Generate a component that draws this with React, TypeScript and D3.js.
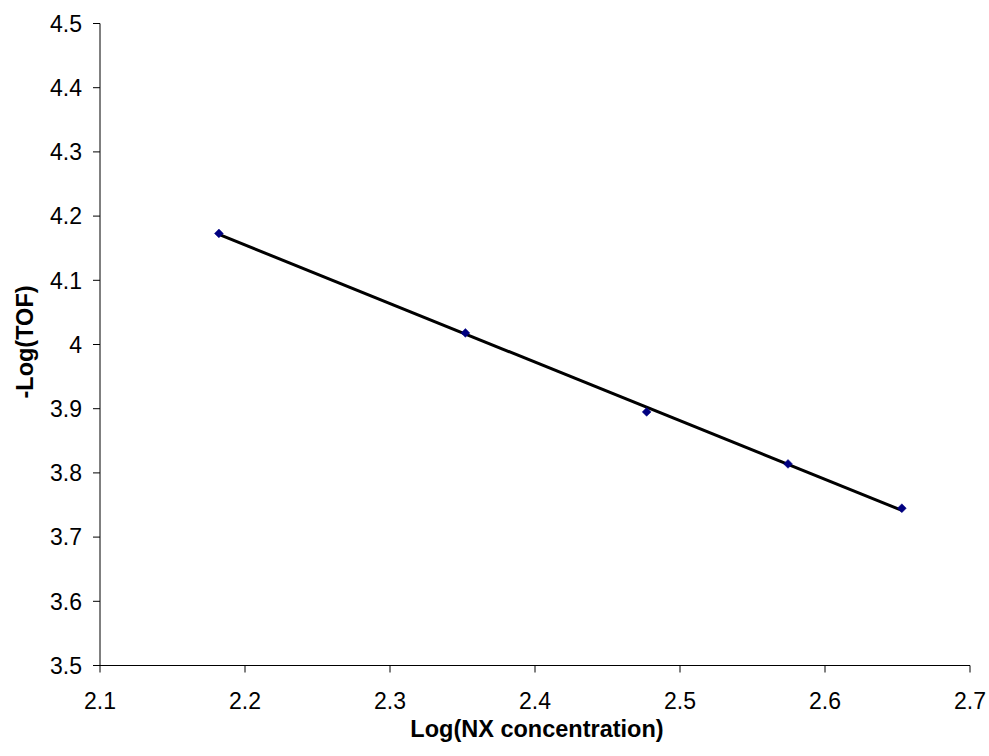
import React from "react";
import * as d3 from "d3";

const xValues = [2.182, 2.352, 2.477, 2.5745, 2.653];
const yValues = [4.173, 4.018, 3.895, 3.814, 3.745];
const xTicks = [2.1, 2.2, 2.3, 2.4, 2.5, 2.6, 2.7];
const yTicks = [3.5, 3.6, 3.7, 3.8, 3.9, 4, 4.1, 4.2, 4.3, 4.4, 4.5];
const xTitle = "Log(NX concentration)";
const yTitle = "-Log(TOF)";

const W = 989;
const H = 756;
const FONT = "'Liberation Sans', Arial, sans-serif";

export default function App() {
  const x = d3.scaleLinear().domain([2.1, 2.7]).range([100, 970]);
  const y = d3.scaleLinear().domain([3.5, 4.5]).range([665.5, 23.5]);

  // linear regression trendline
  const n = xValues.length;
  const mx = d3.mean(xValues)!;
  const my = d3.mean(yValues)!;
  let sxy = 0, sxx = 0;
  for (let i = 0; i < n; i++) {
    sxy += (xValues[i] - mx) * (yValues[i] - my);
    sxx += (xValues[i] - mx) ** 2;
  }
  const slope = sxy / sxx;
  const intercept = my - slope * mx;
  const x0 = d3.min(xValues)!;
  const x1 = d3.max(xValues)!;
  const line = d3.line<number>()
    .x((d) => x(d))
    .y((d) => y(intercept + slope * d));

  const fmt = (v: number) => String(+v.toFixed(1));

  return (
    <svg
      width={W}
      height={H}
      style={{ position: "absolute", left: 0, top: 0, background: "#fff" }}
      fontFamily={FONT}
    >
      <rect x={0} y={0} width={W} height={H} fill="#fff" />
      {/* axes */}
      <line x1={x(2.1)} x2={x(2.7)} y1={y(3.5)} y2={y(3.5)} stroke="#000" strokeWidth={1} />
      <line x1={x(2.1)} x2={x(2.1)} y1={y(3.5)} y2={y(4.5)} stroke="#000" strokeWidth={1} />
      {xTicks.map((t) => (
        <g key={"xt" + t}>
          <line x1={x(t)} x2={x(t)} y1={y(3.5)} y2={y(3.5) + 7} stroke="#000" strokeWidth={1} />
          <text x={x(t)} y={709} textAnchor="middle" fontSize={23} fill="#000">
            {fmt(t)}
          </text>
        </g>
      ))}
      {yTicks.map((t) => (
        <g key={"yt" + t}>
          <line x1={x(2.1) - 7} x2={x(2.1)} y1={y(t)} y2={y(t)} stroke="#000" strokeWidth={1} />
          <text x={82} y={y(t)} dy="0.36em" textAnchor="end" fontSize={23} fill="#000">
            {fmt(t)}
          </text>
        </g>
      ))}
      {/* trendline */}
      <path d={line([x0, x1]) || ""} fill="none" stroke="#000" strokeWidth={3} />
      {/* markers */}
      {xValues.map((v, i) => (
        <path
          key={"m" + i}
          d={d3.symbol().type(d3.symbolDiamond2).size(50)() || ""}
          transform={`translate(${x(v)},${y(yValues[i])})`}
          fill="#000080"
          stroke="#000080"
          strokeWidth={0.5}
        />
      ))}
      {/* titles */}
      <text x={537} y={737} textAnchor="middle" fontSize={23.5} fontWeight="bold" fill="#000">
        {xTitle}
      </text>
      <text
        transform={`translate(33,342) rotate(-90)`}
        textAnchor="middle"
        fontSize={23.5}
        fontWeight="bold"
        fill="#000"
      >
        {yTitle}
      </text>
    </svg>
  );
}
